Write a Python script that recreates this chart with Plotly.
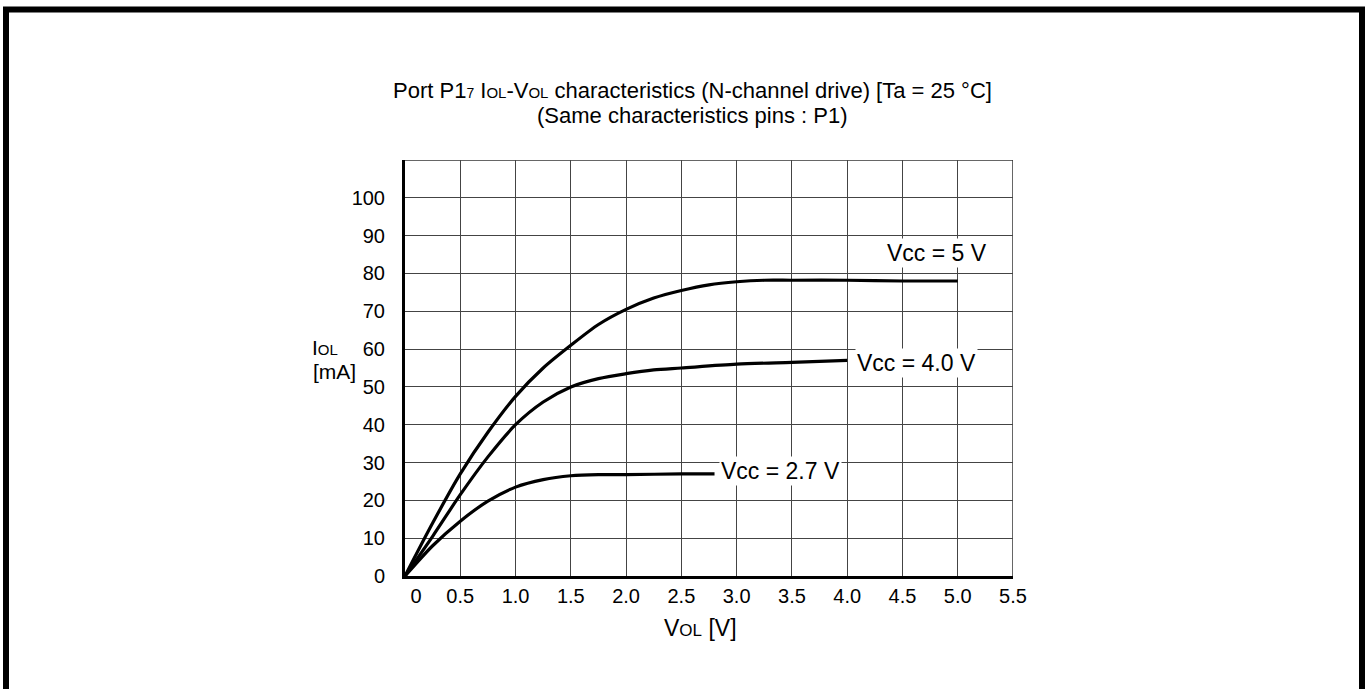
import plotly.graph_objects as go

# Data
v5_x = [0, 0.25, 0.5, 0.75, 1.0, 1.25, 1.5, 1.75, 2.0, 2.25, 2.5, 2.75, 3.0, 3.25, 3.5, 4.0, 4.5, 5.0]
v5_y = [0, 14, 27, 38, 47.5, 55, 61, 66.5, 70.5, 73.5, 75.5, 77, 77.8, 78.2, 78.2, 78.2, 78, 78]

v4_x = [0, 0.25, 0.5, 0.75, 1.0, 1.25, 1.5, 1.75, 2.0, 2.25, 2.5, 3.0, 3.5, 4.0]
v4_y = [0, 10.5, 21.5, 31.5, 40, 46, 50, 52.2, 53.5, 54.5, 55, 56, 56.5, 57]

v27_x = [0, 0.25, 0.5, 0.75, 1.0, 1.25, 1.5, 1.75, 2.0, 2.5, 2.8]
v27_y = [0, 8, 14.5, 19.8, 23.5, 25.5, 26.5, 26.8, 26.8, 27, 27]

labels = ["Vcc = 5 V", "Vcc = 4.0 V", "Vcc = 2.7 V"]
label_x = [4.81, 4.63, 3.40]
label_y = [85.3, 56.2, 27.8]

x_ticks = [0, 0.5, 1.0, 1.5, 2.0, 2.5, 3.0, 3.5, 4.0, 4.5, 5.0, 5.5]
x_ticktext = ["\u00a0\u00a0\u00a0\u00a00", "0.5", "1.0", "1.5", "2.0", "2.5", "3.0", "3.5", "4.0", "4.5", "5.0", "5.5"]
y_ticks = [0, 10, 20, 30, 40, 50, 60, 70, 80, 90, 100, 110]
y_ticktext = ["0", "10", "20", "30", "40", "50", "60", "70", "80", "90", "100", ""]

FONT = "Liberation Sans, Arial, sans-serif"
fig = go.Figure()
for xs, ys in [(v5_x, v5_y), (v4_x, v4_y), (v27_x, v27_y)]:
    fig.add_trace(go.Scatter(x=xs, y=ys, mode="lines",
                             line=dict(color="black", width=3.2, shape="spline", smoothing=0.8),
                             showlegend=False, hoverinfo="skip"))

for t, lx, ly in zip(labels, label_x, label_y):
    fig.add_annotation(x=lx, y=ly, text=t, showarrow=False, bgcolor="white",
                       font=dict(family=FONT, size=23, color="black"), borderpad=1)


def sm(s, size):
    return "<span style='font-size:%dpx'>%s</span>" % (size, s)


def px2paper_x(p):
    return (p - 405) / 608.0


def px2paper_y(p):
    return (576 - p) / 416.0


title1 = ("Port P1" + sm("7", 14) + " I" + sm("OL", 15) + "-V" + sm("OL", 15) +
          " characteristics (N-channel drive) [Ta = 25 \u00b0C]")
title2 = "(Same characteristics pins : P1)"
fig.add_annotation(xref="paper", yref="paper", x=px2paper_x(692), y=px2paper_y(90.5),
                   text=title1, showarrow=False, yanchor="middle",
                   font=dict(family=FONT, size=22, color="black"))
fig.add_annotation(xref="paper", yref="paper", x=px2paper_x(692), y=px2paper_y(115.5),
                   text=title2, showarrow=False, yanchor="middle",
                   font=dict(family=FONT, size=22, color="black"))
fig.add_annotation(xref="paper", yref="paper", x=px2paper_x(310), y=px2paper_y(347),
                   text="I" + sm("OL", 15), showarrow=False, yanchor="middle",
                   font=dict(family=FONT, size=21, color="black"))
fig.add_annotation(xref="paper", yref="paper", x=px2paper_x(311), y=px2paper_y(371),
                   text="[mA]", showarrow=False, yanchor="middle",
                   font=dict(family=FONT, size=21, color="black"))
fig.add_annotation(xref="paper", yref="paper", x=px2paper_x(700), y=px2paper_y(628),
                   text="V" + sm("OL", 17) + " [V]", showarrow=False, yanchor="middle",
                   font=dict(family=FONT, size=23, color="black"))

# outer frame and top/right plot borders
fig.add_shape(type="rect", xref="paper", yref="paper",
              x0=px2paper_x(6), x1=px2paper_x(1362), y0=px2paper_y(9.5), y1=px2paper_y(720),
              line=dict(color="black", width=6), layer="above")
fig.add_shape(type="line", xref="x", yref="y", x0=0, x1=5.5, y0=110, y1=110,
              line=dict(color="#333", width=1.5), layer="below")
fig.add_shape(type="line", xref="x", yref="y", x0=5.5, x1=5.5, y0=0, y1=110,
              line=dict(color="#333", width=1.5), layer="below")

fig.update_xaxes(range=[0, 5.5], tickvals=x_ticks, ticktext=x_ticktext,
                 showgrid=True, gridcolor="#444", gridwidth=1.3,
                 showline=True, linecolor="black", linewidth=3, zeroline=False,
                 ticks="", ticklabelstandoff=0,
                 tickfont=dict(family=FONT, size=20, color="black"))
fig.update_yaxes(range=[0, 110], tickvals=y_ticks, ticktext=y_ticktext,
                 showgrid=True, gridcolor="#444", gridwidth=1.3,
                 showline=True, linecolor="black", linewidth=3, zeroline=False,
                 ticks="", ticklabelstandoff=13,
                 tickfont=dict(family=FONT, size=20, color="black"))

fig.update_layout(width=1368, height=689, plot_bgcolor="white", paper_bgcolor="white",
                  margin=dict(l=405, r=355, t=160, b=113), showlegend=False)

fig.write_html("out.html", config={"displayModeBar": False},
               post_script="document.body.style.margin='0px';document.body.style.overflow='hidden';")
